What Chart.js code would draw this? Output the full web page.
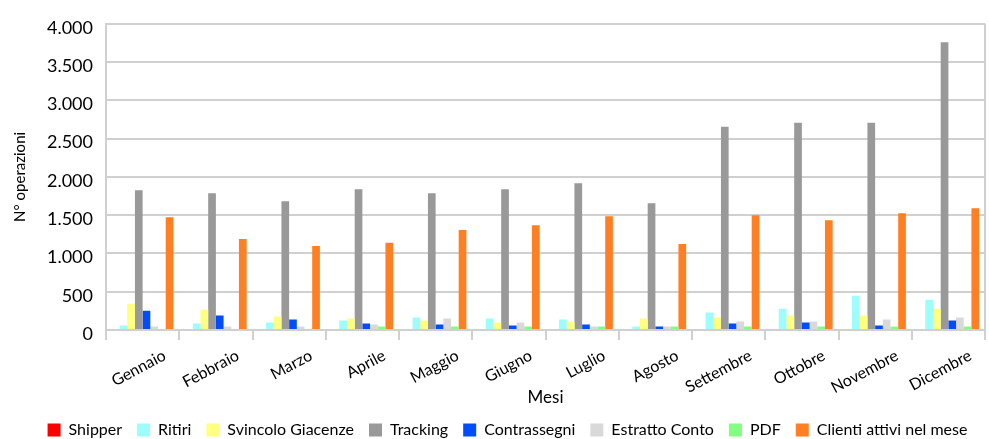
<!DOCTYPE html>
<html lang="it">

<head>
    <meta charset="UTF-8">
    <meta name="viewport" content="width=device-width, initial-scale=1.0">
    <title>Operazioni per mese</title>
    <script src="https://cdn.jsdelivr.net/npm/chart.js@4.4.3/dist/chart.umd.min.js"></script>
    <style>
        body { margin: 0; background: #fff; }
        #grafico { display: block; }
    </style>
</head>

<body>
    <canvas id="grafico" width="989" height="439"></canvas>

    <script>
        const mesi = ['Gennaio', 'Febbraio', 'Marzo', 'Aprile', 'Maggio', 'Giugno',
            'Luglio', 'Agosto', 'Settembre', 'Ottobre', 'Novembre', 'Dicembre'];

        const shipper = [0, 0, 0, 0, 0, 0, 0, 0, 0, 0, 0, 0];
        const ritiri = [58, 84, 97, 123, 162, 149, 136, 45, 227, 279, 448, 396];
        const svincoloGiacenze = [344, 266, 175, 149, 123, 97, 110, 149, 162, 188, 188, 279];
        const tracking = [1825, 1786, 1682, 1838, 1786, 1838, 1916, 1656, 2656, 2708, 2708, 3760];
        const contrassegni = [253, 188, 136, 84, 71, 58, 71, 45, 84, 97, 58, 123];
        const estrattoConto = [45, 45, 45, 71, 149, 97, 45, 45, 110, 110, 136, 162];
        const pdf = [0, 0, 0, 45, 45, 45, 45, 45, 45, 45, 45, 45];
        const clientiAttivi = [1474, 1188, 1097, 1140, 1305, 1370, 1487, 1123, 1500, 1435, 1526, 1591];

        const yMax = 4000;
        const yStep = 500;

        const grigioGriglia = '#d0d0d0';
        const font = 'Lato';

        // 4000 -> "4.000"
        function migliaia(v) {
            return String(v).replace(/\B(?=(\d{3})+(?!\d))/g, '.');
        }

        function serie(label, values, color) {
            return {
                label: label,
                data: values,
                backgroundColor: color,
                borderWidth: 0,
                categoryPercentage: 0.84,
                barPercentage: 1.0
            };
        }

        var data = {
            labels: mesi,
            datasets: [
                serie('Shipper', shipper, '#ff0000'),
                serie('Ritiri', ritiri, '#9dfcfc'),
                serie('Svincolo Giacenze', svincoloGiacenze, '#ffff80'),
                serie('Tracking', tracking, '#999999'),
                serie('Contrassegni', contrassegni, '#004dff'),
                serie('Estratto Conto', estrattoConto, '#d9d9d9'),
                serie('PDF', pdf, '#80ff80'),
                serie('Clienti attivi nel mese', clientiAttivi, '#ff7f22')
            ]
        };

        var config = {
            type: 'bar',
            data: data,
            options: {
                responsive: false,
                animation: false,
                layout: {
                    padding: { left: 30, right: 4, top: 23, bottom: -9 }
                },
                scales: {
                    x: {
                        offset: true,
                        border: { display: true, color: grigioGriglia, width: 2 },
                        grid: {
                            // only the right edge line reaches into the plot
                            color: (ctx) => ctx.type === 'scale' ? grigioGriglia : 'rgba(0,0,0,0)',
                            tickColor: grigioGriglia,
                            lineWidth: 2,
                            tickLength: 10,
                            drawOnChartArea: true
                        },
                        ticks: {
                            autoSkip: false,
                            minRotation: 28,
                            maxRotation: 28,
                            labelOffset: 22,
                            padding: 6,
                            color: '#000',
                            font: { family: font, size: 16 }
                        },
                        title: {
                            display: true,
                            text: 'Mesi',
                            color: '#000',
                            padding: { top: 0, bottom: -1 },
                            font: { family: font, size: 17 }
                        },
                        afterFit: (scale) => { scale.height = 77; }
                    },
                    y: {
                        min: 0,
                        max: yMax,
                        border: { display: true, color: grigioGriglia, width: 2 },
                        grid: {
                            color: grigioGriglia,
                            lineWidth: 2,
                            drawTicks: false
                        },
                        ticks: {
                            stepSize: yStep,
                            padding: 13,
                            labelOffset: 4,
                            color: '#000',
                            font: { family: font, size: 18 },
                            callback: (v) => migliaia(v)
                        },
                        title: {
                            display: true,
                            text: 'N° operazioni',
                            color: '#000',
                            padding: { top: -19, bottom: 0 },
                            font: { family: font, size: 15 }
                        },
                        afterFit: (scale) => { scale.width = 76; }
                    }
                },
                plugins: {
                    legend: {
                        display: true,
                        position: 'bottom',
                        labels: {
                            boxWidth: 13,
                            boxHeight: 13,
                            padding: 15,
                            color: '#000',
                            font: { family: font, size: 16 }
                        }
                    },
                    tooltip: { enabled: false }
                }
            }
        };

        var grafico = new Chart(document.getElementById('grafico'), config);
    </script>
</body>

</html>
